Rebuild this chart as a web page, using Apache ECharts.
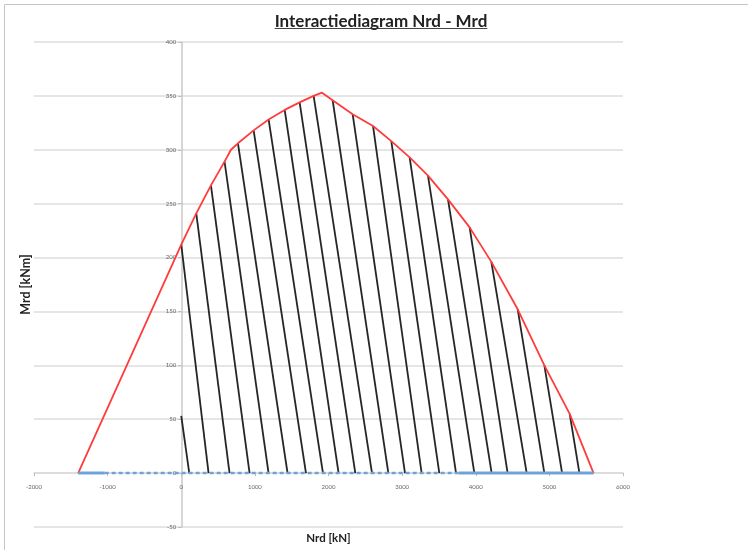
<!DOCTYPE html>
<html>
<head>
<meta charset="utf-8">
<script src="https://cdn.jsdelivr.net/npm/echarts@6/dist/echarts.min.js"></script>
<style>
  html, body { margin: 0; padding: 0; background: #fff; }
  #chart { width: 748px; height: 550px; }
</style>
</head>
<body>
<div id="chart"></div>
<script>
// x axis ticks (Nrd) and y axis ticks (Mrd)
var xTicks = [-2000, -1000, 0, 1000, 2000, 3000, 4000, 5000, 6000];
var yTicks = [-50, 0, 50, 100, 150, 200, 250, 300, 350, 400];

// envelope (red)
var envN = [-1400, 0, 204, 403, 588, 675, 770, 983, 1187, 1405, 1608, 1798, 1912, 2056, 2328, 2605, 2853, 3102, 3351, 3623, 3917, 4212, 4570, 4932, 5276, 5600];
var envM = [0, 212, 241, 267, 289, 300, 306, 318, 328, 337, 344, 350, 353, 346, 333, 322, 308, 293, 276, 254, 228, 196, 152, 100, 55, 0];

// hatch lines: top point on the envelope, foot on the N axis
var hatchTopN = [0, 0, 204, 403, 588, 770, 983, 1187, 1405, 1608, 1798, 2056, 2328, 2605, 2853, 3102, 3351, 3623, 3917, 4212, 4570, 4932, 5276];
var hatchTopM = [53, 212, 241, 267, 289, 306, 318, 328, 337, 344, 350, 346, 333, 322, 308, 293, 276, 254, 228, 196, 152, 100, 55];
var hatchFootN = [109, 371, 656, 928, 1186, 1444, 1694, 1925, 2137, 2364, 2591, 2813, 3039, 3265, 3505, 3732, 3981, 4216, 4433, 4692, 4932, 5173, 5408];

// blue base line on M = 0
var baseSolidA = [-1400, -1040];
var baseDashed = [-1040, 3770];
var baseSolidB = [3770, 5600];

var titleText = 'Interactiediagram Nrd - Mrd';
var titleFont = 'bold 17px Lato';

var chart = echarts.init(document.getElementById('chart'));

var envelope = envN.map(function (n, i) { return [n, envM[i]]; });
var hatch = hatchTopN.map(function (n, i) {
    return { coords: [[n, hatchTopM[i]], [hatchFootN[i], 0]] };
});
function onAxis(arr) { return arr.map(function (n) { return [n, 0]; }); }

// plot box
var gl = 34, gr = 125, gt = 42, gb = 23;
var gw = 748 - gl - gr, gh = 550 - gt - gb;
var xMin = xTicks[0], xMax = xTicks[xTicks.length - 1];
var yMin = yTicks[0], yMax = yTicks[yTicks.length - 1];
// shift the axes so they sit on the zero lines, labels included
var yAxisShift = gw * (0 - xMin) / (xMax - xMin);
var xAxisShift = gh * (0 - yMin) / (yMax - yMin);

// width of the title, for the underline
var ctx = document.createElement('canvas').getContext('2d');
ctx.font = titleFont;
var tw = ctx.measureText(titleText).width;
var tcx = 381;

var option = {
    backgroundColor: '#fff',
    animation: false,
    textStyle: { fontFamily: 'Lato' },
    title: {
        text: titleText,
        left: tcx - 5,
        textAlign: 'center',
        top: 8,
        textStyle: { fontFamily: 'Lato', fontSize: 17, fontWeight: 'bold', color: '#222' }
    },
    graphic: [
        { // outer frame
            type: 'rect', shape: { x: 4.5, y: 4.5, width: 800, height: 600 },
            style: { fill: 'none', stroke: '#c4c4c4', lineWidth: 1 }, silent: true
        },
        { // title underline
            type: 'line', shape: { x1: tcx - tw / 2, y1: 28.5, x2: tcx + tw / 2, y2: 28.5 },
            style: { stroke: '#444', lineWidth: 1.2 }, silent: true
        }
    ],
    grid: { left: gl, right: gr, top: gt, bottom: gb, containLabel: false, outerBoundsMode: 'none' },
    xAxis: {
        type: 'value',
        min: xMin,
        max: xMax,
        interval: 1000,
        position: 'bottom',
        offset: -xAxisShift,
        name: 'Nrd [kN]',
        nameLocation: 'middle',
        nameGap: 59,
        nameTextStyle: { fontFamily: 'Lato', fontSize: 11.5, fontWeight: 'bold', color: '#222' },
        axisLine: { onZero: false, lineStyle: { color: '#d9d9d9', width: 1.5 } },
        axisTick: { show: true, length: 3, lineStyle: { color: '#bbb' } },
        axisLabel: { fontSize: 6, color: '#666', margin: 11, formatter: function (v) { return String(v); } },
        splitLine: { show: false }
    },
    yAxis: {
        type: 'value',
        min: yMin,
        max: yMax,
        interval: 50,
        position: 'left',
        offset: -yAxisShift,
        name: 'Mrd [kNm]',
        nameLocation: 'middle',
        nameGap: 149,
        nameTextStyle: { fontFamily: 'Lato', fontSize: 12.5, fontWeight: 'bold', color: '#222' },
        axisLine: { show: true, onZero: false, lineStyle: { color: '#c8c8c8', width: 1.5 } },
        axisTick: { show: true, length: 3, lineStyle: { color: '#bbb' } },
        axisLabel: { fontSize: 6, color: '#666', margin: 5, formatter: function (v) { return String(v); } },
        splitLine: { show: true, lineStyle: { color: '#dcdcdc', width: 1.5 } }
    },
    series: [
        {
            type: 'lines',
            coordinateSystem: 'cartesian2d',
            data: hatch,
            silent: true,
            z: 2,
            lineStyle: { color: '#262626', width: 1.8, opacity: 1 }
        },
        {
            type: 'line',
            data: envelope,
            symbol: 'none',
            silent: true,
            z: 3,
            lineStyle: { color: '#ff3b3b', width: 1.8 }
        },
        {
            type: 'line',
            data: onAxis(baseSolidA),
            symbol: 'none',
            silent: true,
            z: 4,
            lineStyle: { color: '#6fa3d6', width: 3 }
        },
        {
            type: 'line',
            data: onAxis(baseDashed),
            symbol: 'none',
            silent: true,
            z: 4,
            lineStyle: { color: '#6fa3d6', width: 2.5, type: [4, 3] }
        },
        {
            type: 'line',
            data: onAxis(baseSolidB),
            symbol: 'none',
            silent: true,
            z: 4,
            lineStyle: { color: '#6fa3d6', width: 3 }
        }
    ]
};
chart.setOption(option);
</script>
</body>
</html>
